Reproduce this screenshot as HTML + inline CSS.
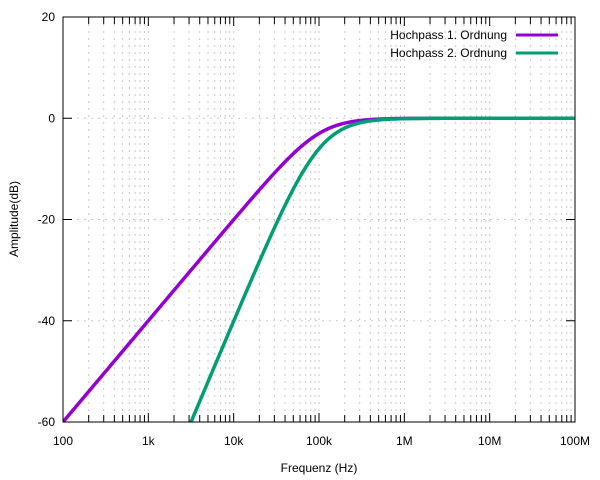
<!DOCTYPE html>
<html><head><meta charset="utf-8"><style>
html,body{margin:0;padding:0;background:#fff;}
svg{display:block;font-family:"Liberation Sans",sans-serif;}
</style></head><body>
<svg id="s" width="600" height="480" xmlns="http://www.w3.org/2000/svg"></svg>
<script>
const s=document.getElementById('s');
const L=63,R=575,T=17,B=422;
const X=f=>L+(Math.log10(f)-2)*(R-L)/6;
const Y=d=>T+(20-d)*(B-T)/80;
let h='';
for(let e=2;e<8;e++)for(let m=1;m<10;m++){const x=X(m*Math.pow(10,e));if(m==1&&e==2)continue;
h+=`<line x1="${x}" y1="${T}" x2="${x}" y2="${B}" stroke="#c8c8c8" stroke-width="1" stroke-dasharray="2,5"/>`;
h+=`<line x1="${x}" y1="${T}" x2="${x}" y2="${T+(m==1?9:7)}" stroke="#000"/><line x1="${x}" y1="${B}" x2="${x}" y2="${B-(m==1?9:7)}" stroke="#000"/>`;}
[0,-20,-40].forEach(d=>{const y=Y(d);h+=`<line x1="${L}" y1="${y}" x2="${R}" y2="${y}" stroke="#c8c8c8" stroke-dasharray="2,5"/>`;});
[20,0,-20,-40,-60].forEach(d=>{const y=Y(d);h+=`<line x1="${L}" y1="${y}" x2="${L+9}" y2="${y}" stroke="#000"/><line x1="${R}" y1="${y}" x2="${R-9}" y2="${y}" stroke="#000"/><text x="${L-8}" y="${y+4}" font-size="12" text-anchor="end">${d}</text>`;});
['100','1k','10k','100k','1M','10M','100M'].forEach((t,i)=>{h+=`<text x="${L+i*(R-L)/6}" y="445" font-size="12" text-anchor="middle">${t}</text>`;});
let p1='',p2='';
for(let i=0;i<=600;i++){const lf=2+6*i/600,f=Math.pow(10,lf),x=f/1e5;
const d1=20*Math.log10(x/Math.sqrt(1+x*x));const d2=2*d1;
p1+=(i?'L':'M')+X(f).toFixed(2)+','+Y(d1).toFixed(2);
if(d2>=-60.5)p2+=(p2?'L':'M')+X(f).toFixed(2)+','+Y(Math.max(d2,-60)).toFixed(2);}
h+=`<svg x="${L}" y="${T}" width="${R-L}" height="${B-T}" viewBox="${L} ${T} ${R-L} ${B-T}" overflow="hidden"><path d="${p1}" fill="none" stroke="#9400d3" stroke-width="3.5"/><path d="${p2}" fill="none" stroke="#009e73" stroke-width="3.5"/></svg>`;
h+=`<rect x="${L}" y="${T}" width="${R-L}" height="${B-T}" fill="none" stroke="#000"/>`;
h+=`<text x="507" y="39" font-size="12" text-anchor="end">Hochpass 1. Ordnung</text><line x1="516" y1="35" x2="558" y2="35" stroke="#9400d3" stroke-width="3"/>`;
h+=`<text x="507" y="57" font-size="12" text-anchor="end">Hochpass 2. Ordnung</text><line x1="516" y1="53" x2="558" y2="53" stroke="#009e73" stroke-width="3"/>`;
h+=`<text x="319" y="472" font-size="12" text-anchor="middle">Frequenz (Hz)</text>`;
h+=`<text transform="translate(18,219) rotate(-90)" font-size="12" text-anchor="middle">Amplitude(dB)</text>`;
s.innerHTML=h;
</script>
</body></html>
